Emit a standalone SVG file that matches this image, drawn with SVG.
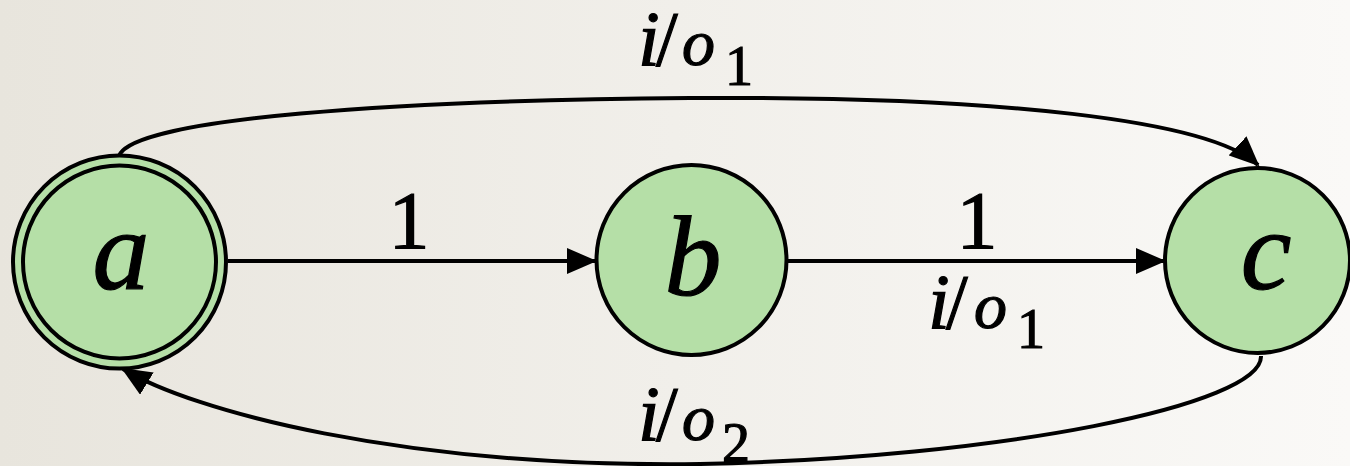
<svg xmlns="http://www.w3.org/2000/svg" width="1350" height="466" viewBox="0 0 1350 466">
  <defs>
    <linearGradient id="bg" x1="0" y1="0" x2="1" y2="0">
      <stop offset="0" stop-color="#e8e5dd"/>
      <stop offset="1" stop-color="#faf9f7"/>
    </linearGradient>
    <marker id="arrow" viewBox="0 0 30 26" markerWidth="30" markerHeight="26" refX="28" refY="13" orient="auto" markerUnits="userSpaceOnUse">
      <path d="M0,0 L30,13 L0,26 z" fill="#000"/>
    </marker>
    <style>
      .node { fill: #b5dfa7; stroke: #000; stroke-width: 4; }
      .edge { fill: none; stroke: #000; stroke-width: 4; }
      .lbl { fill: #000; stroke: #000; stroke-width: 1.2; font-family: "Liberation Serif", "Times New Roman", serif; }
      .it { font-style: italic; }
      .big { font-size: 114px; }
      .mid { font-size: 78px; }
      .sm { font-size: 66px; }
      .sub { font-size: 56px; }
      .num { font-size: 82px; }
    </style>
  </defs>
  <rect x="0" y="0" width="1350" height="466" fill="url(#bg)"/>

  <g id="connectors">
    <path class="edge" d="M228,261 L595,261" marker-end="url(#arrow)"/>
    <path class="edge" d="M786,261 L1164,261" marker-end="url(#arrow)"/>
    <path class="edge" d="M119,156 C132,118 400,100 690,98 C1000,96 1210,120 1258,165" marker-end="url(#arrow)"/>
    <path class="edge" d="M1261,356 C1263,405 1000,458 700,464 C400,468 190,410 123,369" marker-end="url(#arrow)"/>
  </g>

  <g id="node-a">
    <circle class="node" cx="119.5" cy="262" r="106.5"/>
    <circle class="node" cx="119.5" cy="262" r="96.5"/>
    <text class="lbl it big" x="121" y="289" text-anchor="middle">a</text>
  </g>
  <g id="node-b">
    <circle class="node" cx="691.5" cy="260" r="95"/>
    <text class="lbl it big" x="693" y="295" text-anchor="middle">b</text>
  </g>
  <g id="node-c">
    <circle class="node" cx="1257.5" cy="260.5" r="92.5"/>
    <text class="lbl it big" x="1266" y="289" text-anchor="middle">c</text>
  </g>

  <g id="labels">
    <g id="label-top">
      <text class="lbl it mid" x="638" y="65">i</text>
      <text class="lbl mid" x="656" y="65">/</text>
      <text class="lbl it sm" x="682" y="65">o</text>
      <text class="lbl sub" x="725" y="85">1</text>
    </g>
    <text class="lbl num" x="409" y="248" text-anchor="middle">1</text>
    <text class="lbl num" x="977" y="248" text-anchor="middle">1</text>
    <g id="label-mid">
      <text class="lbl it mid" x="928" y="328">i</text>
      <text class="lbl mid" x="946" y="328">/</text>
      <text class="lbl it sm" x="974" y="328">o</text>
      <text class="lbl sub" x="1017" y="348">1</text>
    </g>
    <g id="label-bottom">
      <text class="lbl it mid" x="638" y="440">i</text>
      <text class="lbl mid" x="656" y="440">/</text>
      <text class="lbl it sm" x="682" y="440">o</text>
      <text class="lbl sub" x="722" y="462">2</text>
    </g>
  </g>
</svg>
